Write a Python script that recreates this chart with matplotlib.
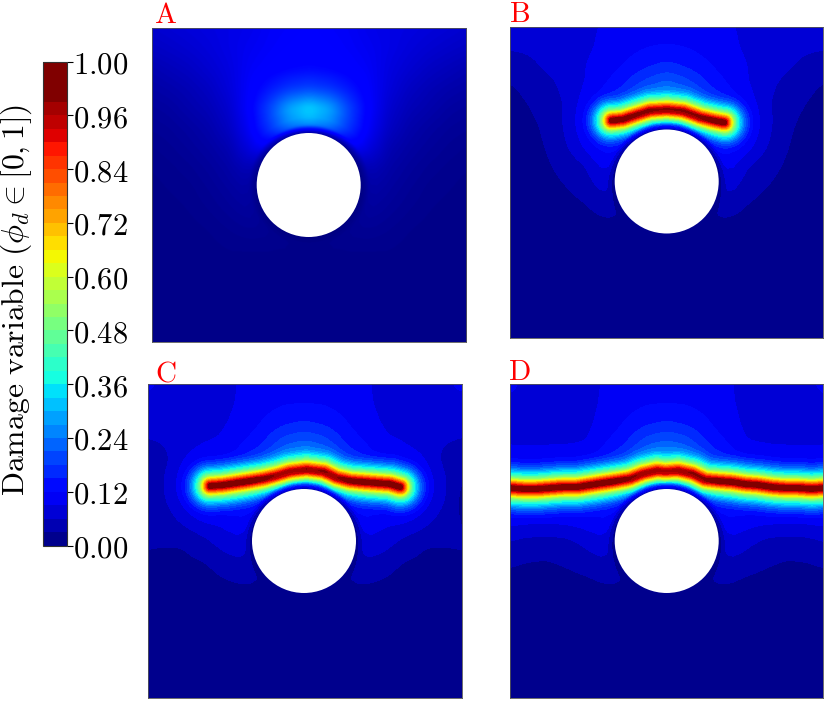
import numpy as np
import matplotlib
matplotlib.use('Agg')
import matplotlib.pyplot as plt
from matplotlib.colors import ListedColormap, BoundaryNorm
from matplotlib.patches import Circle

plt.rcParams['mathtext.fontset'] = 'cm'
plt.rcParams['font.family'] = 'serif'

# colour bar
tick_values = [0.00, 0.12, 0.24, 0.36, 0.48, 0.60, 0.72, 0.84, 0.96, 1.00]
tick_labels = ['0.00', '0.12', '0.24', '0.36', '0.48', '0.60', '0.72', '0.84', '0.96', '1.00']
levels_low = [0.00, 0.03, 0.06, 0.09, 0.12, 0.15, 0.18, 0.21, 0.24, 0.27, 0.30, 0.33,
              0.36, 0.39, 0.42, 0.45, 0.48, 0.51, 0.54, 0.57, 0.60, 0.63, 0.66, 0.69,
              0.72, 0.75, 0.78, 0.81, 0.84, 0.87, 0.90, 0.93, 0.96]
levels_high = [0.97, 0.98, 0.99, 1.00]

# damage: rows are distance from the top edge, columns distance
# from the vertical centre line (the panels are close to symmetric)
table_rows = [0, 20, 40, 60, 80, 100, 120, 140, 160, 180, 200, 220, 240, 260, 280, 300, 314]
table_cols = [0, 20, 40, 60, 80, 100, 120, 140, 157]

damage_a = [
    [.115, .110, .105, .095, .090, .085, .080, .075, .070],
    [.118, .115, .108, .100, .090, .080, .072, .065, .060],
    [.130, .125, .115, .105, .085, .072, .060, .052, .045],
    [.190, .175, .145, .110, .080, .060, .048, .040, .035],
    [.340, .290, .190, .115, .070, .050, .040, .030, .026],
    [.320, .280, .180, .105, .060, .040, .030, .023, .020],
    [.160, .160, .145, .085, .045, .032, .024, .018, .015],
    [.080, .080, .080, .055, .035, .025, .018, .014, .012],
    [.050, .050, .050, .040, .028, .020, .014, .012, .010],
    [.030, .030, .030, .030, .022, .016, .012, .010, .010],
    [.020, .020, .020, .020, .016, .012, .010, .010, .008],
    [.012, .012, .012, .012, .012, .010, .010, .008, .008],
    [.010, .010, .010, .010, .010, .008, .008, .008, .008],
    [.008, .008, .008, .008, .008, .008, .008, .008, .008],
    [.008, .008, .008, .008, .008, .008, .008, .008, .008],
    [.008, .008, .008, .008, .008, .008, .008, .008, .008],
    [.010, .010, .010, .008, .008, .008, .008, .008, .008],
]
damage_b = [
    [.100, .100, .098, .093, .085, .075, .072, .075, .095],
    [.123, .118, .108, .098, .085, .074, .068, .065, .064],
    [.160, .145, .125, .105, .091, .072, .064, .052, .042],
    [.230, .200, .155, .120, .092, .068, .050, .036, .027],
    [.300, .270, .200, .140, .094, .063, .042, .028, .020],
    [.250, .220, .180, .140, .094, .062, .036, .020, .015],
    [.200, .200, .180, .130, .088, .058, .031, .018, .012],
    [.150, .150, .140, .110, .060, .042, .025, .015, .010],
    [.100, .100, .100, .080, .045, .030, .018, .012, .010],
    [.050, .050, .050, .045, .028, .018, .013, .010, .010],
    [.020, .020, .020, .020, .016, .012, .010, .010, .010],
    [.010, .010, .010, .010, .010, .010, .010, .010, .010],
    [.010, .010, .010, .010, .010, .010, .010, .010, .010],
    [.010, .010, .010, .010, .010, .010, .010, .010, .010],
    [.010, .010, .010, .010, .010, .010, .010, .010, .010],
    [.010, .010, .010, .010, .010, .010, .010, .010, .010],
    [.010, .010, .010, .010, .010, .010, .010, .010, .010],
]
damage_c = [
    [.100, .100, .098, .093, .084, .080, .080, .085, .095],
    [.120, .118, .108, .095, .084, .080, .079, .080, .082],
    [.155, .145, .125, .100, .088, .082, .080, .075, .070],
    [.220, .200, .150, .120, .094, .087, .080, .060, .055],
    [.300, .270, .200, .140, .100, .090, .080, .050, .040],
    [.250, .220, .190, .140, .110, .095, .080, .050, .028],
    [.200, .200, .180, .140, .110, .095, .070, .045, .026],
    [.150, .150, .140, .120, .090, .075, .055, .040, .029],
    [.120, .120, .110, .090, .070, .050, .032, .031, .032],
    [.060, .060, .060, .055, .042, .027, .022, .024, .025],
    [.020, .020, .029, .030, .025, .018, .015, .015, .015],
    [.012, .012, .012, .012, .012, .012, .012, .012, .012],
    [.012, .012, .012, .012, .012, .012, .012, .012, .012],
    [.012, .012, .012, .012, .012, .012, .012, .012, .012],
    [.012, .012, .012, .012, .012, .012, .012, .012, .012],
    [.012, .012, .012, .012, .012, .012, .012, .012, .012],
    [.012, .012, .012, .012, .012, .012, .012, .012, .012],
]
damage_d = [
    [.100, .100, .098, .093, .083, .080, .080, .085, .095],
    [.120, .118, .108, .095, .083, .078, .077, .080, .085],
    [.155, .145, .125, .100, .085, .080, .078, .078, .080],
    [.220, .200, .150, .120, .088, .085, .085, .085, .085],
    [.300, .270, .200, .140, .110, .100, .100, .100, .100],
    [.250, .220, .190, .150, .130, .130, .130, .130, .130],
    [.200, .200, .180, .140, .120, .120, .110, .110, .110],
    [.150, .150, .140, .120, .095, .080, .070, .070, .083],
    [.100, .100, .100, .090, .065, .050, .046, .048, .057],
    [.060, .060, .060, .055, .042, .033, .026, .028, .033],
    [.020, .020, .031, .030, .022, .017, .015, .015, .017],
    [.012, .012, .012, .012, .012, .012, .012, .012, .012],
    [.012, .012, .012, .012, .012, .012, .012, .012, .012],
    [.012, .012, .012, .012, .012, .012, .012, .012, .012],
    [.012, .012, .012, .012, .012, .012, .012, .012, .012],
    [.012, .012, .012, .012, .012, .012, .012, .012, .012],
    [.012, .012, .012, .012, .012, .012, .012, .012, .012],
]

# crack centre lines, panel pixels
crack_b_x = [102, 113, 127, 140, 157, 173, 190, 203, 214]
crack_b_y = [94, 93, 88.5, 84.5, 83.5, 85, 91, 94, 96]
crack_c_x = [63, 76, 89, 102.5, 116, 129, 142.5, 159, 176, 189, 202.5, 216, 229, 242.5, 252.5]
crack_c_y = [102, 101, 99, 97, 95, 92, 88, 86, 88, 94, 97, 98, 99, 100, 103]
crack_d_x = [0, 13, 27, 40, 53, 67, 80, 93, 107, 120, 133, 147, 155, 168, 182, 195, 208, 222,
             235, 248, 262, 275, 288, 302, 314]
crack_d_y = [104, 105, 105, 104, 103, 103, 101, 99, 97, 95, 90, 87, 88, 87, 90, 96, 97, 98,
             100, 101, 103, 104, 104, 105, 104]

# damage against distance from the crack centre line
ridge_dist = [0, 1.5, 3, 4.7, 7.5, 10, 14, 20, 26, 32, 45, 60]
ridge_val = [1.0, 1.0, 0.93, 0.82, 0.66, 0.52, 0.38, 0.23, 0.14, 0.09, 0.06, 0.0]

# drop of the damage towards the hole edge
hole_dist = [0, 2, 5, 8, 10, 16, 26]
hole_factor = [0.12, 0.25, 0.50, 0.78, 0.85, 0.95, 1.0]

HOLE_R = 52.0
FIG_W, FIG_H = 831, 711


def px_axes(fig, x, y, w, h):
    return fig.add_axes([x / FIG_W, 1 - (y + h) / FIG_H, w / FIG_W, h / FIG_H])


def smooth(a, n, axis):
    kernel = np.ones(n) / n
    pad = [(0, 0), (0, 0)]
    pad[axis] = (n // 2, n // 2)
    b = np.pad(a, pad, mode='edge')
    return np.apply_along_axis(lambda v: np.convolve(v, kernel, mode='valid'), axis, b)


def crack_distance(xx, yy, cx, cy):
    best = np.full(xx.shape, 1e9)
    for i in range(len(cx) - 1):
        ax, ay = cx[i], cy[i]
        bx, by = cx[i + 1], cy[i + 1]
        t = ((xx - ax) * (bx - ax) + (yy - ay) * (by - ay)) / ((bx - ax) ** 2 + (by - ay) ** 2)
        t = np.clip(t, 0, 1)
        best = np.minimum(best, np.hypot(xx - ax - t * (bx - ax), yy - ay - t * (by - ay)))
    return best


def build_field(table, w, h, hole_x, hole_y, crack=None):
    xs = np.arange(0, w + 0.5, 0.5)
    ys = np.arange(0, h + 0.5, 0.5)
    xx, yy = np.meshgrid(xs, ys)
    table = np.array(table)
    d = np.abs(xs - hole_x)
    by_col = np.array([np.interp(d, table_cols, row) for row in table])
    field = np.array([np.interp(ys, table_rows, by_col[:, j]) for j in range(len(xs))]).T
    field = smooth(smooth(field, 25, 0), 25, 1)
    if crack is not None:
        ridge = np.interp(crack_distance(xx, yy, crack[0], crack[1]), ridge_dist, ridge_val)
        ridge = smooth(smooth(ridge, 3, 0), 3, 1)
        field = (field ** 5 + ridge ** 5) ** 0.2
    r = np.hypot(xx - hole_x, yy - hole_y)
    field = field * np.interp(r - HOLE_R, hole_dist, hole_factor)
    field = np.ma.masked_where(r < HOLE_R - 1.5, np.clip(field, 0, 0.9999))
    return xs, ys, field


levels = levels_low + levels_high
mids = [(levels[i] + levels[i + 1]) / 2 for i in range(len(levels) - 1)]
band_colors = [plt.cm.jet(m) for m in mids]
band_colors[-3:] = [plt.cm.jet(1.0)] * 3
band_cmap = ListedColormap(band_colors)
band_norm = BoundaryNorm(levels, len(band_colors))

panels = [
    ('A', damage_a, None, (152, 28, 314, 314), (156.7, 157), (154, 23)),
    ('B', damage_b, (crack_b_x, crack_b_y), (510, 26.5, 313.5, 312), (156.7, 155), (509, 22)),
    ('C', damage_c, (crack_c_x, crack_c_y), (147.5, 384, 314, 314), (156.5, 157), (155, 381)),
    ('D', damage_d, (crack_d_x, crack_d_y), (510, 384, 313.5, 314), (156.7, 157), (508, 380)),
]

fig = plt.figure(figsize=(FIG_W / 100, FIG_H / 100), dpi=100)
mappable = None
for name, table, crack, box, hole, label_pos in panels:
    ax = px_axes(fig, *box)
    xs, ys, field = build_field(table, box[2], box[3], hole[0], hole[1], crack)
    if crack is None:
        # panel A has no visible contour steps
        ax.imshow(field, cmap='jet', vmin=0, vmax=1, extent=(0, box[2], box[3], 0),
                  interpolation='bilinear', aspect='auto')
    else:
        mappable = ax.contourf(xs, ys, field, levels=levels, cmap=band_cmap, norm=band_norm)
    ax.add_patch(Circle(hole, HOLE_R, facecolor='white', edgecolor='none', zorder=3))
    ax.set_xlim(0, box[2])
    ax.set_ylim(box[3], 0)
    ax.set_xticks([])
    ax.set_yticks([])
    for s in ax.spines.values():
        s.set_linewidth(0.6)
        s.set_color('#555555')
    fig.text(label_pos[0] / FIG_W, 1 - label_pos[1] / FIG_H, '$\\mathrm{%s}$' % name,
             color='red', fontsize=21, ha='left', va='baseline')

cax = px_axes(fig, 43, 61.5, 24, 484)
cbar = fig.colorbar(mappable, cax=cax, spacing='uniform')
cbar.set_ticks(tick_values, labels=['$%s$' % t for t in tick_labels])
cbar.minorticks_off()
cbar.ax.tick_params(labelsize=22, length=4.5, width=0.8, pad=0)
cbar.outline.set_linewidth(0.8)
cbar.outline.set_edgecolor('#333333')
fig.text(16.5 / FIG_W, 1 - 300 / FIG_H, r'$\mathrm{Damage\ variable\ }(\phi_d \in [0,1])$',
         rotation=90, fontsize=22.8, ha='center', va='center')

fig.savefig('out.png', dpi=100)
